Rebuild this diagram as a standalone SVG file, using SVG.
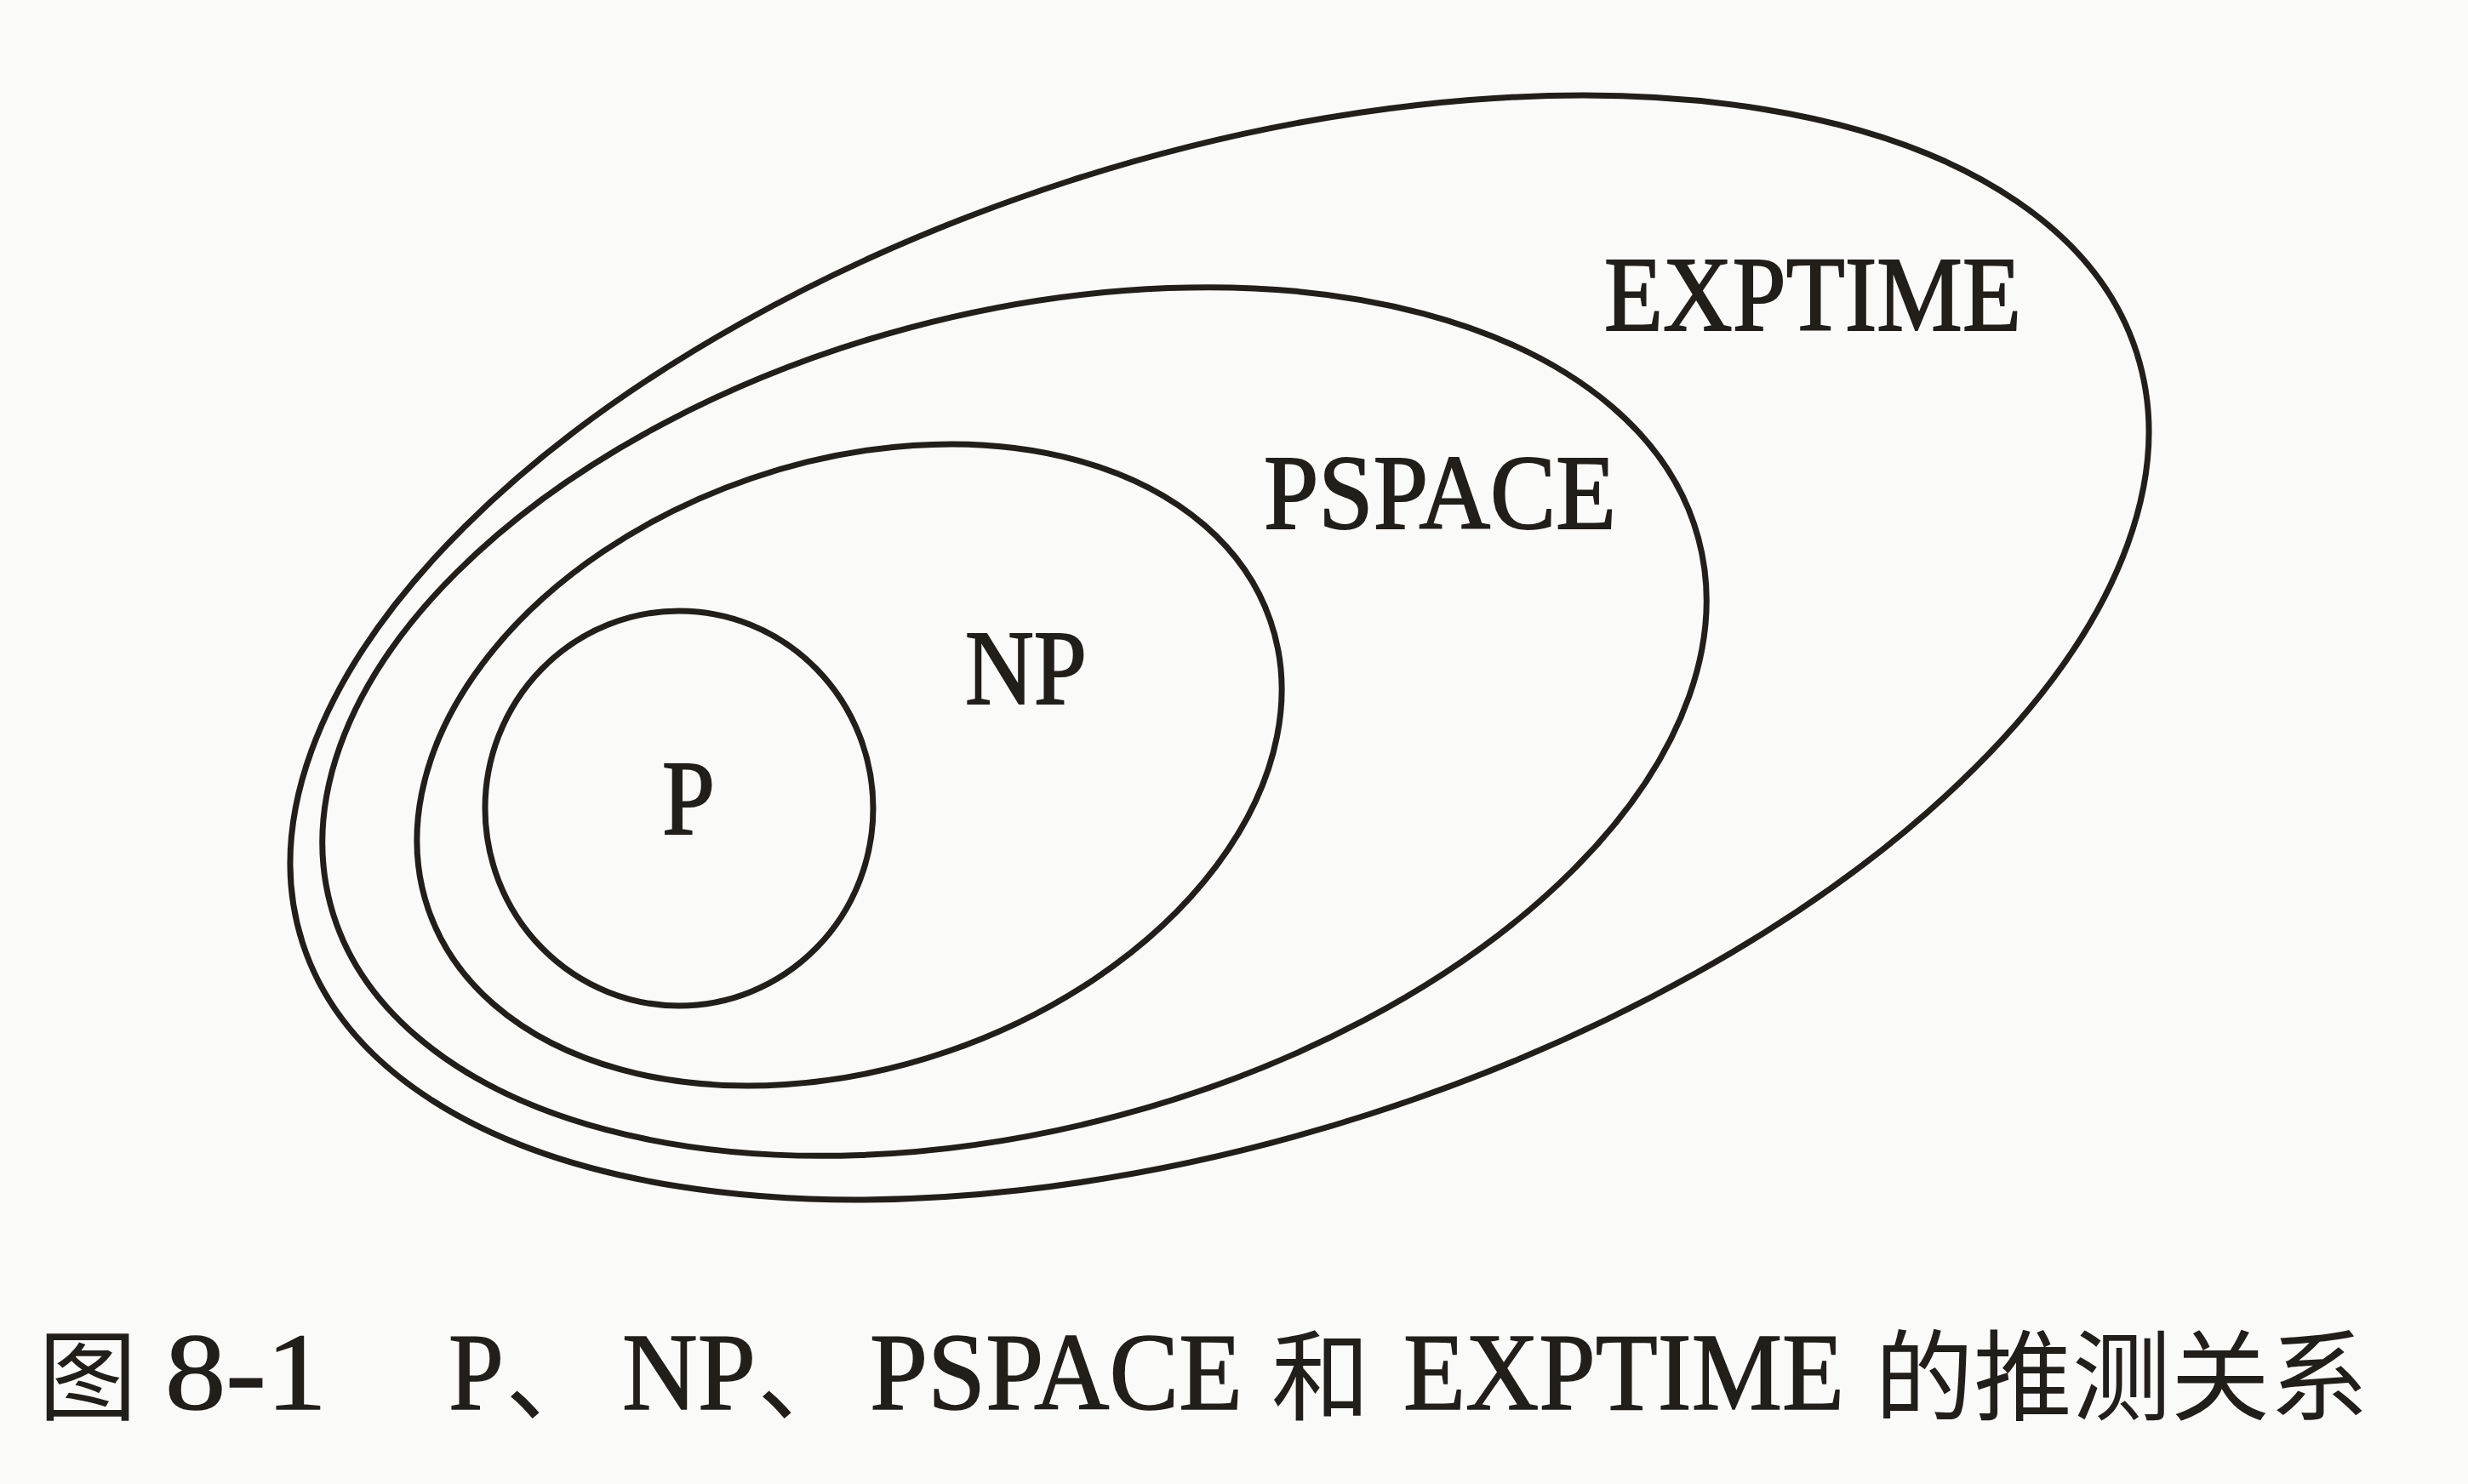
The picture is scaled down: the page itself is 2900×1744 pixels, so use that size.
<svg xmlns="http://www.w3.org/2000/svg" width="2900" height="1744" viewBox="0 0 2900 1744">
<style>
.set{fill:none;stroke:#221e1a;stroke-width:7}
.lbl{font-family:"Liberation Serif","Times New Roman",serif;font-size:125px;fill:#221e1a;stroke:#221e1a;stroke-width:2}
.cap{font-family:"Liberation Serif","Times New Roman",serif;font-size:130px;fill:#221e1a;stroke:#221e1a;stroke-width:1.5}
.cjk{font-family:"Noto Sans CJK SC","Noto Sans CJK JP",sans-serif;font-size:116px;fill:#221e1a}
</style>
<rect width="2900" height="1744" fill="#fafaf8"/>
<g id="exptime">
<ellipse class="set" cx="1433" cy="761" rx="1132" ry="576" transform="rotate(-17.85 1433 761)"/>
<text class="lbl" x="1885" y="388" textLength="490" lengthAdjust="spacingAndGlyphs">EXPTIME</text>
</g>
<g id="pspace">
<ellipse class="set" cx="1192" cy="848" rx="832" ry="479" transform="rotate(-15 1192 848)"/>
<text class="lbl" x="1485" y="621" textLength="414" lengthAdjust="spacingAndGlyphs">PSPACE</text>
</g>
<g id="np">
<ellipse class="set" cx="998" cy="899" rx="523" ry="356" transform="rotate(-18.9 998 899)"/>
<text class="lbl" x="1134" y="827" textLength="143" lengthAdjust="spacingAndGlyphs">NP</text>
</g>
<g id="p">
<ellipse class="set" cx="798" cy="950" rx="228" ry="232"/>
<text class="lbl" x="778" y="980" textLength="62" lengthAdjust="spacingAndGlyphs">P</text>
</g>
<g id="connectors"/>
<g id="caption">
<text class="cjk" x="45" y="1660">图</text>
<text class="cap" x="194" y="1656" textLength="190" lengthAdjust="spacingAndGlyphs">8-1</text>
<text class="cap" x="527" y="1656" textLength="65" lengthAdjust="spacingAndGlyphs">P</text>
<text class="cjk" x="594" y="1660">、</text>
<text class="cap" x="731" y="1656" textLength="157" lengthAdjust="spacingAndGlyphs">NP</text>
<text class="cjk" x="890" y="1660">、</text>
<text class="cap" x="1022" y="1656" textLength="438" lengthAdjust="spacingAndGlyphs">PSPACE</text>
<text class="cjk" x="1494" y="1660">和</text>
<text class="cap" x="1649" y="1656" textLength="518" lengthAdjust="spacingAndGlyphs">EXPTIME</text>
<text class="cjk" x="2203" y="1660">的推测关系</text>
</g>
</svg>
